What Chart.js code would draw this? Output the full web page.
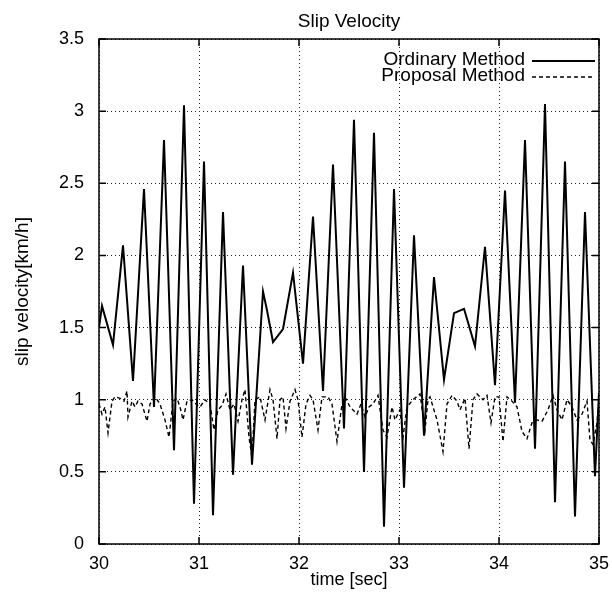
<!DOCTYPE html>
<html>
<head>
<meta charset="utf-8">
<script src="https://cdn.jsdelivr.net/npm/chart.js@4.4.0/dist/chart.umd.min.js"></script>
<style>
  html, body { margin: 0; padding: 0; background: #fff; }
</style>
</head>
<body>
<canvas id="chart" width="612" height="593"></canvas>
<script>
const chartTitle = "Slip Velocity";
const xTitle = "time [sec]";
const yTitle = "slip velocity[km/h]";

// Ordinary Method (solid)
const ordinaryTime = [30.00, 30.03, 30.14, 30.24, 30.34, 30.45, 30.55, 30.65, 30.75, 30.85,
  30.95, 31.05, 31.14, 31.24, 31.34, 31.44, 31.53, 31.64, 31.68, 31.74, 31.84, 31.94,
  32.04, 32.14, 32.24, 32.34, 32.45, 32.55, 32.65, 32.75, 32.85, 32.95, 33.05, 33.15,
  33.25, 33.35, 33.45, 33.55, 33.65, 33.76, 33.86, 33.96, 34.06, 34.16, 34.26, 34.36,
  34.46, 34.56, 34.66, 34.76, 34.86, 34.96, 35.00];
const ordinaryValue = [1.50, 1.65, 1.38, 2.07, 1.13, 2.46, 0.95, 2.80, 0.65, 3.04,
  0.28, 2.65, 0.20, 2.30, 0.48, 1.93, 0.55, 1.75, 1.62, 1.40, 1.49, 1.88,
  1.25, 2.27, 1.06, 2.63, 0.80, 2.94, 0.50, 2.85, 0.12, 2.46, 0.39, 2.14,
  0.75, 1.85, 1.14, 1.60, 1.63, 1.37, 2.06, 1.10, 2.45, 0.98, 2.80, 0.66,
  3.05, 0.29, 2.65, 0.19, 2.30, 0.47, 1.05];

// Proposal Method (dashed)
const proposalTime = [30.00, 30.03, 30.06, 30.09, 30.13, 30.16, 30.21, 30.25, 30.28, 30.29,
  30.33, 30.36, 30.39, 30.43, 30.48, 30.51, 30.56, 30.61, 30.66, 30.70, 30.74, 30.78,
  30.81, 30.84, 30.88, 30.93, 30.97, 31.01, 31.06, 31.11, 31.15, 31.19, 31.23, 31.27,
  31.31, 31.35, 31.39, 31.43, 31.46, 31.50, 31.53, 31.56, 31.61, 31.66, 31.71, 31.74,
  31.78, 31.81, 31.84, 31.87, 31.91, 31.96, 31.99, 32.03, 32.07, 32.11, 32.14, 32.19,
  32.23, 32.29, 32.33, 32.38, 32.43, 32.46, 32.51, 32.58, 32.62, 32.66, 32.70, 32.74,
  32.79, 32.84, 32.88, 32.93, 32.96, 33.01, 33.04, 33.08, 33.14, 33.21, 33.26, 33.29,
  33.31, 33.38, 33.44, 33.48, 33.53, 33.58, 33.61, 33.66, 33.70, 33.74, 33.78, 33.84,
  33.88, 33.92, 33.96, 34.00, 34.04, 34.08, 34.13, 34.18, 34.23, 34.28, 34.33, 34.38,
  34.43, 34.49, 34.54, 34.58, 34.63, 34.68, 34.73, 34.78, 34.83, 34.88, 34.91, 34.94,
  34.98, 35.00];
const proposalValue = [0.97, 0.90, 0.95, 0.77, 0.99, 1.02, 1.01, 0.99, 1.06, 0.88,
  0.99, 0.95, 0.99, 0.97, 0.85, 0.97, 1.02, 0.97, 0.86, 0.74, 0.99, 1.01,
  0.95, 0.86, 0.99, 1.00, 0.97, 0.95, 1.00, 0.97, 0.79, 0.93, 0.96, 1.04,
  0.93, 0.97, 0.85, 1.00, 1.07, 0.74, 0.60, 1.00, 1.02, 0.86, 1.07, 1.00,
  0.73, 1.00, 1.02, 0.80, 0.99, 1.07, 1.00, 0.74, 0.97, 1.03, 1.00, 0.79,
  1.02, 1.02, 0.97, 0.71, 0.97, 1.02, 0.95, 0.90, 0.97, 0.88, 0.95, 0.97,
  1.03, 0.79, 0.74, 0.95, 0.86, 0.93, 0.74, 0.95, 1.00, 1.04, 0.79, 1.00,
  1.02, 0.86, 0.64, 0.97, 1.03, 0.99, 0.93, 1.01, 0.66, 1.00, 1.04, 1.00,
  1.03, 0.84, 1.02, 1.02, 0.71, 1.02, 0.99, 0.95, 0.78, 0.73, 0.84, 0.86,
  0.85, 0.93, 1.03, 0.93, 0.86, 1.00, 0.95, 0.86, 0.90, 0.99, 0.72, 0.69,
  0.84, 1.00];

const fontFamily = '"Liberation Sans", Arial, Helvetica, sans-serif';

function toPoints(xs, ys) {
    return xs.map((x, i) => ({ x: x, y: ys[i] }));
}

// frame, inward ticks, title and legend (gnuplot look)
const gnuplotFrame = {
    id: 'gnuplotFrame',
    afterDraw(chart) {
        const { ctx, chartArea: a, scales } = chart;
        ctx.save();
        ctx.strokeStyle = '#000';
        ctx.lineWidth = 1.5;
        ctx.beginPath();
        scales.x.ticks.forEach(t => {
            const px = scales.x.getPixelForValue(t.value);
            ctx.moveTo(px, a.bottom); ctx.lineTo(px, a.bottom - 7);
            ctx.moveTo(px, a.top); ctx.lineTo(px, a.top + 7);
        });
        scales.y.ticks.forEach(t => {
            const py = scales.y.getPixelForValue(t.value);
            ctx.moveTo(a.left, py); ctx.lineTo(a.left + 7, py);
            ctx.moveTo(a.right, py); ctx.lineTo(a.right - 7, py);
        });
        ctx.stroke();
        ctx.strokeRect(a.left, a.top, a.right - a.left, a.bottom - a.top);

        ctx.fillStyle = '#000';
        ctx.font = '19px ' + fontFamily;
        ctx.textAlign = 'center';
        ctx.textBaseline = 'alphabetic';
        ctx.fillText(chartTitle, (a.left + a.right) / 2, 27);

        // legend: text right aligned, line sample on the right
        ctx.textAlign = 'right';
        ctx.textBaseline = 'middle';
        chart.data.datasets.forEach((ds, i) => {
            const y = a.top + 21 + i * 16;
            ctx.fillText(ds.label, a.right - 74, y);
            ctx.setLineDash(ds.borderDash || []);
            ctx.lineWidth = ds.borderWidth;
            ctx.beginPath();
            ctx.moveTo(a.right - 67, y + 1);
            ctx.lineTo(a.right - 4, y + 1);
            ctx.stroke();
        });
        ctx.restore();
    }
};

const ctx = document.getElementById("chart").getContext("2d");

window.myChart = new Chart(ctx, {
    type: 'line',
    data: {
        datasets: [{
            label: 'Ordinary Method',
            data: toPoints(ordinaryTime, ordinaryValue),
            borderColor: '#000',
            borderWidth: 2,
            pointRadius: 0,
            tension: 0,
            fill: false
        }, {
            label: 'Proposal Method',
            data: toPoints(proposalTime, proposalValue),
            borderColor: '#000',
            borderWidth: 1.4,
            borderDash: [4, 3],
            pointRadius: 0,
            tension: 0,
            fill: false
        }]
    },
    options: {
        responsive: false,
        animation: false,
        layout: { padding: { top: 39, right: 13, left: 0, bottom: 0 } },
        plugins: {
            legend: { display: false },
            title: { display: false },
            tooltip: { enabled: false }
        },
        scales: {
            x: {
                type: 'linear',
                min: 30,
                max: 35,
                afterFit: s => { s.height = 49; s.paddingLeft = 0; s.paddingRight = 0; },
                ticks: {
                    stepSize: 1,
                    padding: 9,
                    color: '#000',
                    font: { family: fontFamily, size: 18 },
                    maxRotation: 0
                },
                grid: { color: '#222', lineWidth: 1, drawTicks: false },
                border: { display: false, dash: [1, 3] },
                title: {
                    display: true,
                    text: xTitle,
                    color: '#000',
                    font: { family: fontFamily, size: 18 },
                    padding: { top: 0, bottom: 2 }
                }
            },
            y: {
                min: 0,
                max: 3.5,
                afterFit: s => { s.width = 99; s.paddingTop = 0; s.paddingBottom = 0; },
                ticks: {
                    stepSize: 0.5,
                    padding: 15,
                    color: '#000',
                    font: { family: fontFamily, size: 18 },
                    callback: v => String(v)
                },
                grid: { color: '#222', lineWidth: 1, drawTicks: false },
                border: { display: false, dash: [1, 3] },
                title: {
                    display: true,
                    text: yTitle,
                    color: '#000',
                    font: { family: fontFamily, size: 19 },
                    padding: { top: 11, bottom: 0 }
                }
            }
        }
    },
    plugins: [gnuplotFrame]
});
</script>
</body>
</html>
